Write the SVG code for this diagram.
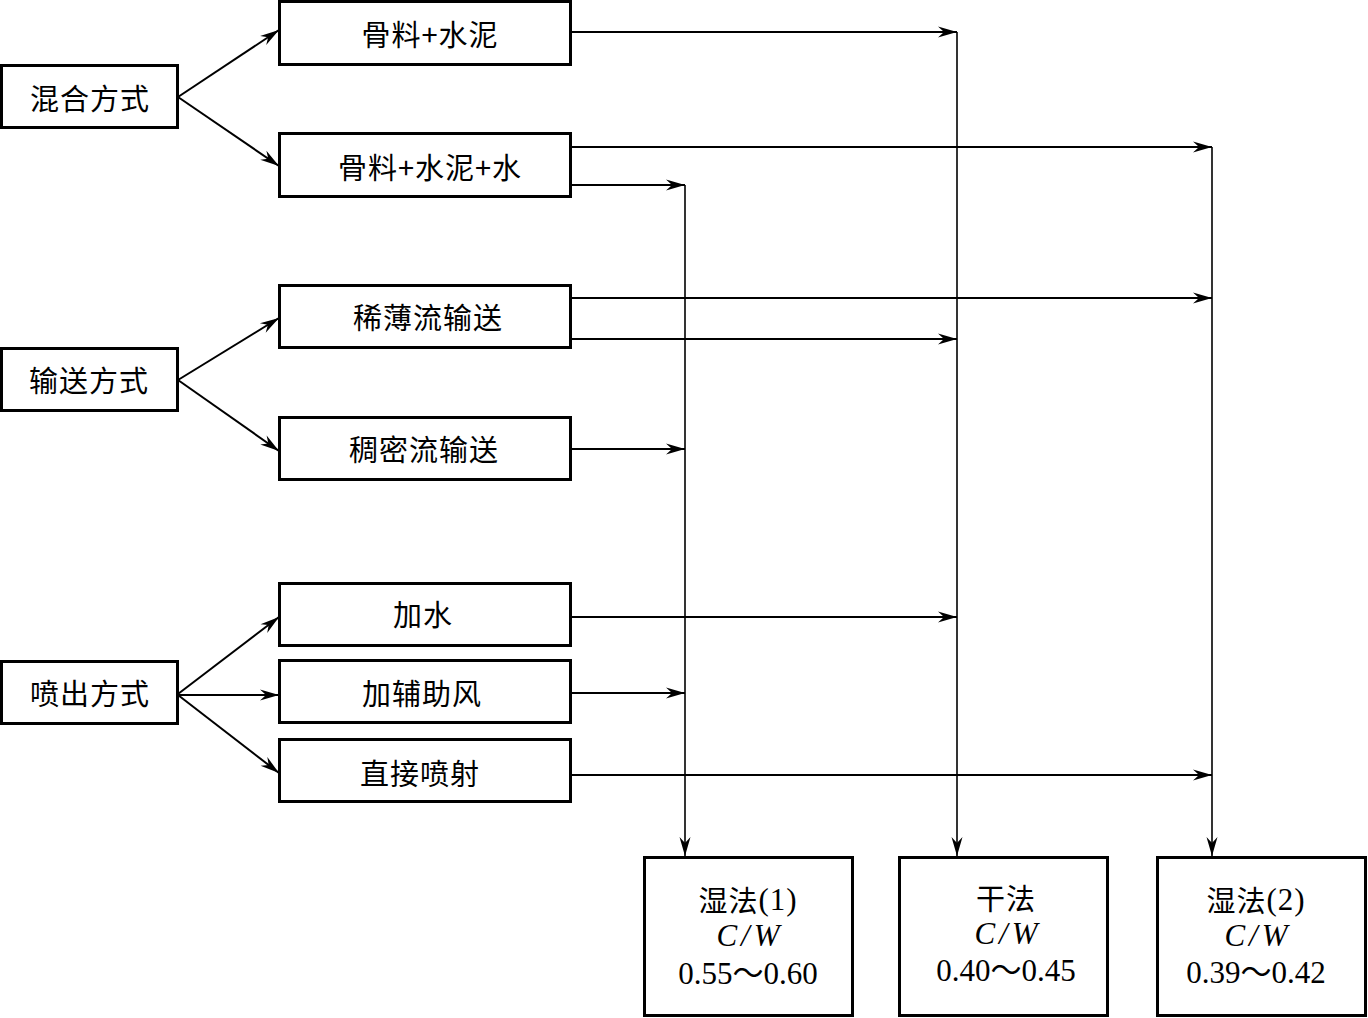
<svg xmlns="http://www.w3.org/2000/svg" width="1368" height="1018" viewBox="0 0 1368 1018">
<defs>
<marker id="ah" markerUnits="userSpaceOnUse" markerWidth="22" markerHeight="12" viewBox="-20 -6 22 12" refX="0" refY="0" orient="auto">
<path d="M0,0 L-19,-5.5 L-13,0 L-19,5.5 Z" fill="#000"/>
</marker>
</defs>
<style>
.box{fill:#fff;stroke:#000;stroke-width:3}
.t{font-family:"Noto Sans CJK SC","Liberation Serif",serif;font-size:29px;fill:#000;text-anchor:middle;dominant-baseline:central;letter-spacing:1px}
.n{font-family:"Liberation Serif","Noto Sans CJK SC",serif;font-size:31px;fill:#000;text-anchor:middle;dominant-baseline:central}
.i{font-style:italic;letter-spacing:4px}
.c{fill:none;stroke:#000;stroke-width:2}
.v{fill:none;stroke:#000;stroke-width:1.6}
</style>
<g id="connectors">
<path class="c" d="M178,97 L279,30" marker-end="url(#ah)"/>
<path class="c" d="M178,97 L279,166" marker-end="url(#ah)"/>
<path class="c" d="M178,380 L279,318" marker-end="url(#ah)"/>
<path class="c" d="M178,380 L279,451" marker-end="url(#ah)"/>
<path class="c" d="M178,694 L279,617" marker-end="url(#ah)"/>
<path class="c" d="M178,695 L279,695" marker-end="url(#ah)"/>
<path class="c" d="M178,695 L279,773" marker-end="url(#ah)"/>
<path class="c" d="M571,32 L957,32" marker-end="url(#ah)"/>
<path class="c" d="M571,147 L1212,147" marker-end="url(#ah)"/>
<path class="c" d="M571,185 L685,185" marker-end="url(#ah)"/>
<path class="c" d="M571,298 L1212,298" marker-end="url(#ah)"/>
<path class="c" d="M571,339 L957,339" marker-end="url(#ah)"/>
<path class="c" d="M571,449 L685,449" marker-end="url(#ah)"/>
<path class="c" d="M571,617 L957,617" marker-end="url(#ah)"/>
<path class="c" d="M571,693 L685,693" marker-end="url(#ah)"/>
<path class="c" d="M571,775 L1212,775" marker-end="url(#ah)"/>
<path class="v" d="M685,185 L685,856" marker-end="url(#ah)"/>
<path class="v" d="M957,32 L957,856" marker-end="url(#ah)"/>
<path class="v" d="M1212,147 L1212,856" marker-end="url(#ah)"/>
</g>
<g id="n-mix"><rect class="box" x="1.5" y="65.5" width="176" height="62"/><text class="t" x="90" y="97">混合方式</text></g>
<g id="n-convey"><rect class="box" x="1.5" y="348.5" width="176" height="62"/><text class="t" x="89" y="379">输送方式</text></g>
<g id="n-spray"><rect class="box" x="1.5" y="661.5" width="176" height="62"/><text class="t" x="90" y="692">喷出方式</text></g>
<g id="n-ac"><rect class="box" x="279.5" y="1.5" width="291" height="63"/><text class="t" x="430" y="33">骨料+水泥</text></g>
<g id="n-acw"><rect class="box" x="279.5" y="133.5" width="291" height="63"/><text class="t" x="430" y="166">骨料+水泥+水</text></g>
<g id="n-dilute"><rect class="box" x="279.5" y="285.5" width="291" height="62"/><text class="t" x="428" y="316">稀薄流输送</text></g>
<g id="n-dense"><rect class="box" x="279.5" y="417.5" width="291" height="62"/><text class="t" x="424" y="448">稠密流输送</text></g>
<g id="n-water"><rect class="box" x="279.5" y="583.5" width="291" height="62"/><text class="t" x="423" y="613">加水</text></g>
<g id="n-air"><rect class="box" x="279.5" y="660.5" width="291" height="62"/><text class="t" x="422" y="692">加辅助风</text></g>
<g id="n-direct"><rect class="box" x="279.5" y="739.5" width="291" height="62"/><text class="t" x="420" y="772">直接喷射</text></g>
<g id="n-wet1"><rect class="box" x="644.5" y="857.5" width="208" height="158"/>
<text class="t" x="748" y="899">湿法<tspan font-family="Liberation Serif" font-size="31">(1)</tspan></text>
<text class="n i" x="750" y="935">C/W</text>
<text class="n" x="748" y="973">0.55～0.60</text></g>
<g id="n-dry"><rect class="box" x="899.5" y="857.5" width="208" height="158"/>
<text class="t" x="1006" y="897">干法</text>
<text class="n i" x="1008" y="933">C/W</text>
<text class="n" x="1006" y="970">0.40～0.45</text></g>
<g id="n-wet2"><rect class="box" x="1157.5" y="857.5" width="208" height="158"/>
<text class="t" x="1256" y="899">湿法<tspan font-family="Liberation Serif" font-size="31">(2)</tspan></text>
<text class="n i" x="1258" y="935">C/W</text>
<text class="n" x="1256" y="972">0.39～0.42</text></g>
</svg>
